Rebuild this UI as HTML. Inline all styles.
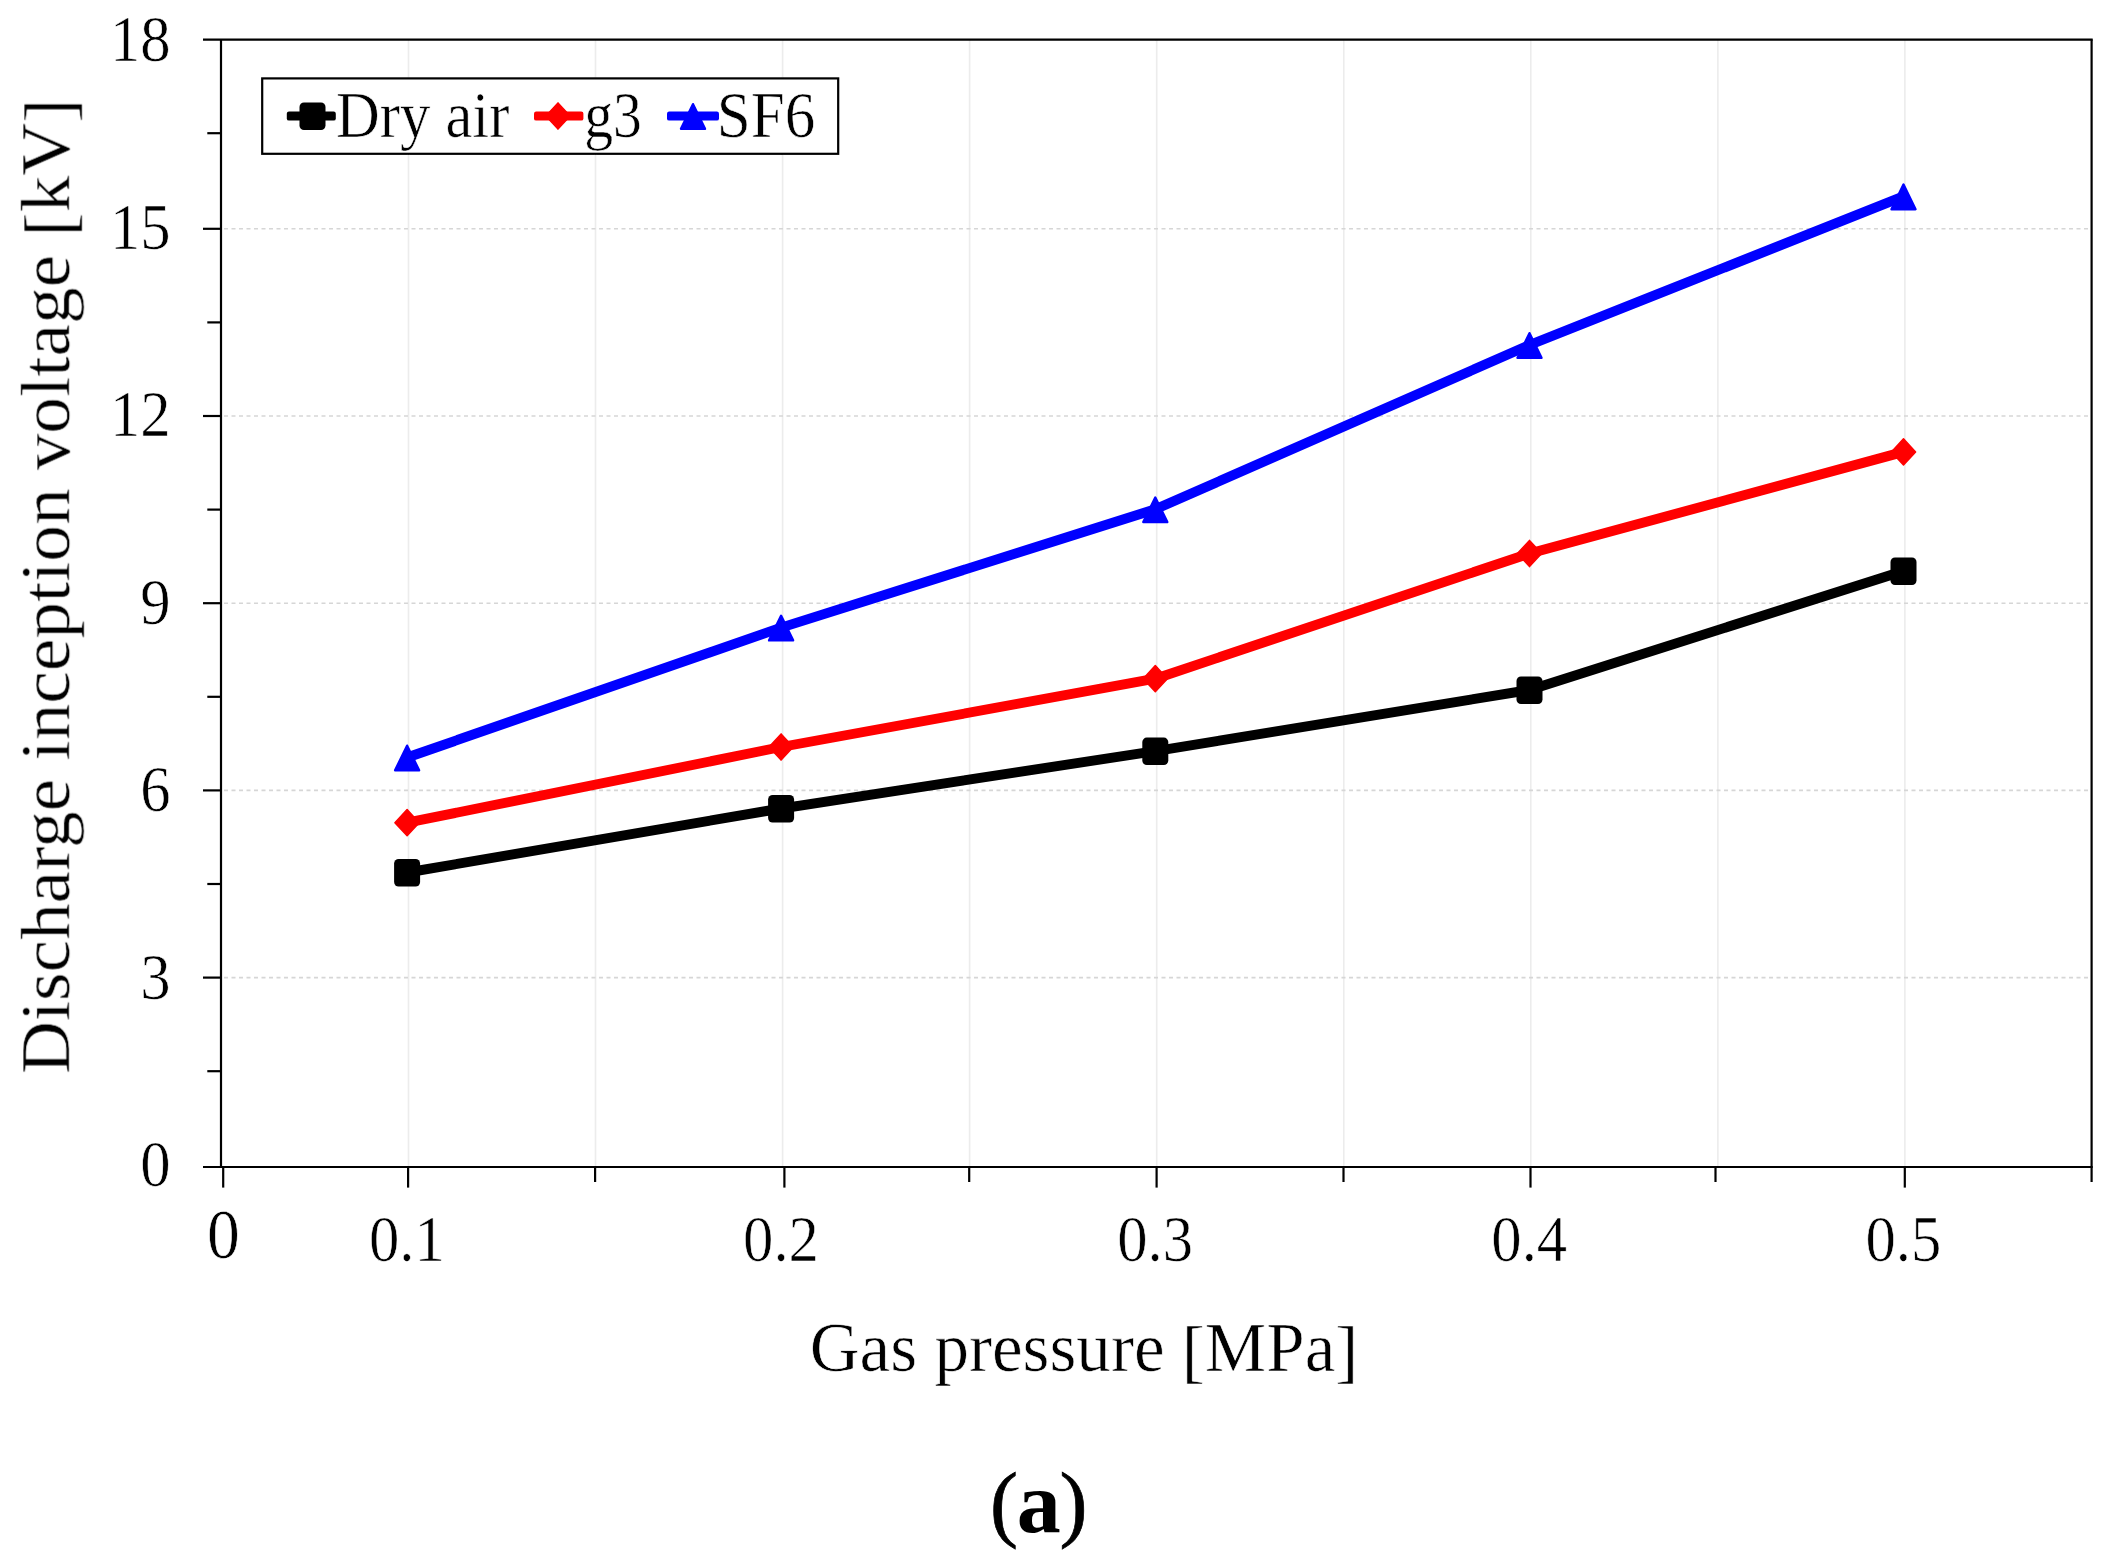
<!DOCTYPE html>
<html lang="en"><head><meta charset="utf-8"><title>Discharge inception voltage vs gas pressure</title>
<style>
html,body{margin:0;padding:0;background:#fff;}
body{width:2109px;height:1568px;overflow:hidden;}
svg{display:block;}
text{font-family:"Liberation Serif","Times New Roman",Times,serif;fill:#000;stroke:#fff;stroke-width:0.6px;}
</style></head><body>
<svg width="2109" height="1568" viewBox="0 0 2109 1568">
<defs><filter id="soft" x="0" y="0" width="2109" height="1568" filterUnits="userSpaceOnUse"><feGaussianBlur stdDeviation="0.5"/></filter></defs>
<rect x="0" y="0" width="2109" height="1568" fill="#fff"/>
<g filter="url(#soft)">

<g stroke="#ececec" stroke-width="1.6" fill="none">
<line x1="408.5" y1="39.6" x2="408.5" y2="1167.0"/>
<line x1="595.5" y1="39.6" x2="595.5" y2="1167.0"/>
<line x1="782.6" y1="39.6" x2="782.6" y2="1167.0"/>
<line x1="969.6" y1="39.6" x2="969.6" y2="1167.0"/>
<line x1="1156.7" y1="39.6" x2="1156.7" y2="1167.0"/>
<line x1="1343.8" y1="39.6" x2="1343.8" y2="1167.0"/>
<line x1="1530.8" y1="39.6" x2="1530.8" y2="1167.0"/>
<line x1="1717.9" y1="39.6" x2="1717.9" y2="1167.0"/>
<line x1="1904.9" y1="39.6" x2="1904.9" y2="1167.0"/>
</g>
<g stroke="#d6d6d6" stroke-width="1.6" stroke-dasharray="4 3.5" fill="none">
<line x1="224.0" y1="977.6" x2="2091.6" y2="977.6"/>
<line x1="224.0" y1="790.4" x2="2091.6" y2="790.4"/>
<line x1="224.0" y1="603.2" x2="2091.6" y2="603.2"/>
<line x1="224.0" y1="416.0" x2="2091.6" y2="416.0"/>
<line x1="224.0" y1="228.8" x2="2091.6" y2="228.8"/>
</g>
<g stroke="#000" stroke-width="2.2" fill="none" stroke-linecap="butt">
<line x1="203" y1="39.6" x2="2092.7" y2="39.6"/>
<line x1="203" y1="1167.0" x2="2092.7" y2="1167.0"/>
<line x1="221.0" y1="39.6" x2="221.0" y2="1167.0"/>
<line x1="2091.6" y1="39.6" x2="2091.6" y2="1182.0"/>
<line x1="207.3" y1="1071.2" x2="221.0" y2="1071.2"/>
<line x1="203" y1="977.6" x2="221.0" y2="977.6"/>
<line x1="207.3" y1="884.0" x2="221.0" y2="884.0"/>
<line x1="203" y1="790.4" x2="221.0" y2="790.4"/>
<line x1="207.3" y1="696.8" x2="221.0" y2="696.8"/>
<line x1="203" y1="603.2" x2="221.0" y2="603.2"/>
<line x1="207.3" y1="509.6" x2="221.0" y2="509.6"/>
<line x1="203" y1="416.0" x2="221.0" y2="416.0"/>
<line x1="207.3" y1="322.4" x2="221.0" y2="322.4"/>
<line x1="203" y1="228.8" x2="221.0" y2="228.8"/>
<line x1="207.3" y1="133.2" x2="221.0" y2="133.2"/>
<line x1="223.2" y1="1167.0" x2="223.2" y2="1187.6"/>
<line x1="408.1" y1="1167.0" x2="408.1" y2="1187.6"/>
<line x1="595.1" y1="1167.0" x2="595.1" y2="1182.0"/>
<line x1="784.4" y1="1167.0" x2="784.4" y2="1187.6"/>
<line x1="969.2" y1="1167.0" x2="969.2" y2="1182.0"/>
<line x1="1156.6" y1="1167.0" x2="1156.6" y2="1187.6"/>
<line x1="1343.5" y1="1167.0" x2="1343.5" y2="1182.0"/>
<line x1="1530.5" y1="1167.0" x2="1530.5" y2="1187.6"/>
<line x1="1715.5" y1="1167.0" x2="1715.5" y2="1182.0"/>
<line x1="1904.8" y1="1167.0" x2="1904.8" y2="1187.6"/>
</g>
<polyline points="407.1,872.5 781.1,808.5 1155.3,751.1 1529.5,690.0 1903.5,571.0" fill="none" stroke="#000" stroke-width="9.9" stroke-linejoin="round" stroke-linecap="round"/>
<rect x="394.1" y="859.0" width="26" height="27.5" rx="4.5" ry="4.5" fill="#000"/>
<rect x="768.1" y="795.0" width="26" height="27.5" rx="4.5" ry="4.5" fill="#000"/>
<rect x="1142.3" y="737.6" width="26" height="27.5" rx="4.5" ry="4.5" fill="#000"/>
<rect x="1516.5" y="676.5" width="26" height="27.5" rx="4.5" ry="4.5" fill="#000"/>
<rect x="1890.5" y="557.5" width="26" height="27.5" rx="4.5" ry="4.5" fill="#000"/>
<polyline points="407.1,822.7 781.1,747.0 1155.3,678.7 1529.5,553.5 1903.5,451.9" fill="none" stroke="#f00" stroke-width="9.9" stroke-linejoin="round" stroke-linecap="round"/>
<polygon points="407.1,809.6 419.2,822.7 407.1,835.8 394.9,822.7" fill="#f00" stroke="#f00" stroke-width="1.5" stroke-linejoin="round"/>
<polygon points="781.1,733.9 793.2,747.0 781.1,760.1 769.0,747.0" fill="#f00" stroke="#f00" stroke-width="1.5" stroke-linejoin="round"/>
<polygon points="1155.3,665.6 1167.4,678.7 1155.3,691.8 1143.2,678.7" fill="#f00" stroke="#f00" stroke-width="1.5" stroke-linejoin="round"/>
<polygon points="1529.5,540.4 1541.6,553.5 1529.5,566.6 1517.4,553.5" fill="#f00" stroke="#f00" stroke-width="1.5" stroke-linejoin="round"/>
<polygon points="1903.5,438.8 1915.6,451.9 1903.5,465.0 1891.4,451.9" fill="#f00" stroke="#f00" stroke-width="1.5" stroke-linejoin="round"/>
<polyline points="407.1,757.5 781.1,627.6 1155.3,509.3 1529.5,345.0 1903.5,196.4" fill="none" stroke="#00f" stroke-width="9.9" stroke-linejoin="round" stroke-linecap="round"/>
<polygon points="407.1,745.7 419.1,770.3 395.1,770.3" fill="#00f" stroke="#00f" stroke-width="2.4" stroke-linejoin="round"/>
<polygon points="781.1,615.8 793.1,640.4 769.1,640.4" fill="#00f" stroke="#00f" stroke-width="2.4" stroke-linejoin="round"/>
<polygon points="1155.3,497.5 1167.3,522.1 1143.3,522.1" fill="#00f" stroke="#00f" stroke-width="2.4" stroke-linejoin="round"/>
<polygon points="1529.5,333.2 1541.5,357.8 1517.5,357.8" fill="#00f" stroke="#00f" stroke-width="2.4" stroke-linejoin="round"/>
<polygon points="1903.5,184.6 1915.5,209.2 1891.5,209.2" fill="#00f" stroke="#00f" stroke-width="2.4" stroke-linejoin="round"/>
<rect x="262.2" y="78.4" width="576.0" height="75.4" fill="#fff" stroke="#000" stroke-width="2.2"/>
<rect x="286.8" y="111.6" width="49.0" height="9" rx="2.2" ry="2.2" fill="#000"/>
<rect x="299.5" y="102.5" width="26" height="27.5" rx="4.5" ry="4.5" fill="#000"/>
<rect x="534" y="111.6" width="49.4" height="9" rx="2.2" ry="2.2" fill="#f00"/>
<polygon points="558.0,102.9 570.1,116.0 558.0,129.1 545.9,116.0" fill="#f00" stroke="#f00" stroke-width="1.5" stroke-linejoin="round"/>
<rect x="667" y="111.6" width="52.0" height="9" rx="2.2" ry="2.2" fill="#00f"/>
<polygon points="693.0,104.2 705.0,128.8 681.0,128.8" fill="#00f" stroke="#00f" stroke-width="2.4" stroke-linejoin="round"/>
<text transform="translate(336.00 137.10) scale(0.9300 1)" font-size="65.2" text-anchor="start">Dry air</text>
<text transform="translate(584.30 137.10) scale(0.8840 1)" font-size="65.2" text-anchor="start">g3</text>
<text transform="translate(716.80 137.10) scale(0.9370 1)" font-size="65.2" text-anchor="start">SF6</text>
<text transform="translate(170.60 1186.00) scale(0.9300 1)" font-size="65.3" text-anchor="end">0</text>
<text transform="translate(170.60 998.50) scale(0.9300 1)" font-size="65.3" text-anchor="end">3</text>
<text transform="translate(170.60 811.00) scale(0.9300 1)" font-size="65.3" text-anchor="end">6</text>
<text transform="translate(170.60 623.50) scale(0.9300 1)" font-size="65.3" text-anchor="end">9</text>
<text transform="translate(170.60 436.00) scale(0.9300 1)" font-size="65.3" text-anchor="end">12</text>
<text transform="translate(170.60 248.50) scale(0.9300 1)" font-size="65.3" text-anchor="end">15</text>
<text transform="translate(170.60 61.00) scale(0.9300 1)" font-size="65.3" text-anchor="end">18</text>
<text transform="translate(406.86 1260.90) scale(0.9300 1)" font-size="65.3" text-anchor="middle">0.1</text>
<text transform="translate(780.98 1260.90) scale(0.9300 1)" font-size="65.3" text-anchor="middle">0.2</text>
<text transform="translate(1155.10 1260.90) scale(0.9300 1)" font-size="65.3" text-anchor="middle">0.3</text>
<text transform="translate(1529.22 1260.90) scale(0.9300 1)" font-size="65.3" text-anchor="middle">0.4</text>
<text transform="translate(1903.34 1260.90) scale(0.9300 1)" font-size="65.3" text-anchor="middle">0.5</text>
<text transform="translate(223.40 1257.90) scale(0.9300 1)" font-size="70.6" text-anchor="middle">0</text>
<text transform="translate(1084.00 1371.00) scale(0.9870 1)" font-size="70" text-anchor="middle">Gas pressure <tspan dy="3.5">[</tspan><tspan dy="-3.5">MPa</tspan><tspan dy="3.5">]</tspan></text>
<text transform="translate(69.2 586.2) rotate(-90) scale(1.060 1)" font-size="69" text-anchor="middle">Discharge inception voltage <tspan dy="3.5">[</tspan><tspan dy="-3.5">kV</tspan><tspan dy="3.5">]</tspan></text>
<text font-size="84" style="stroke:#000;stroke-width:0.7px"><tspan x="990" y="1531.1">(</tspan><tspan x="1016.8" y="1532.2" font-size="88" font-weight="bold" style="stroke:none">a</tspan><tspan x="1059.5" y="1531.1">)</tspan></text>
</g>
</svg>
</body></html>
